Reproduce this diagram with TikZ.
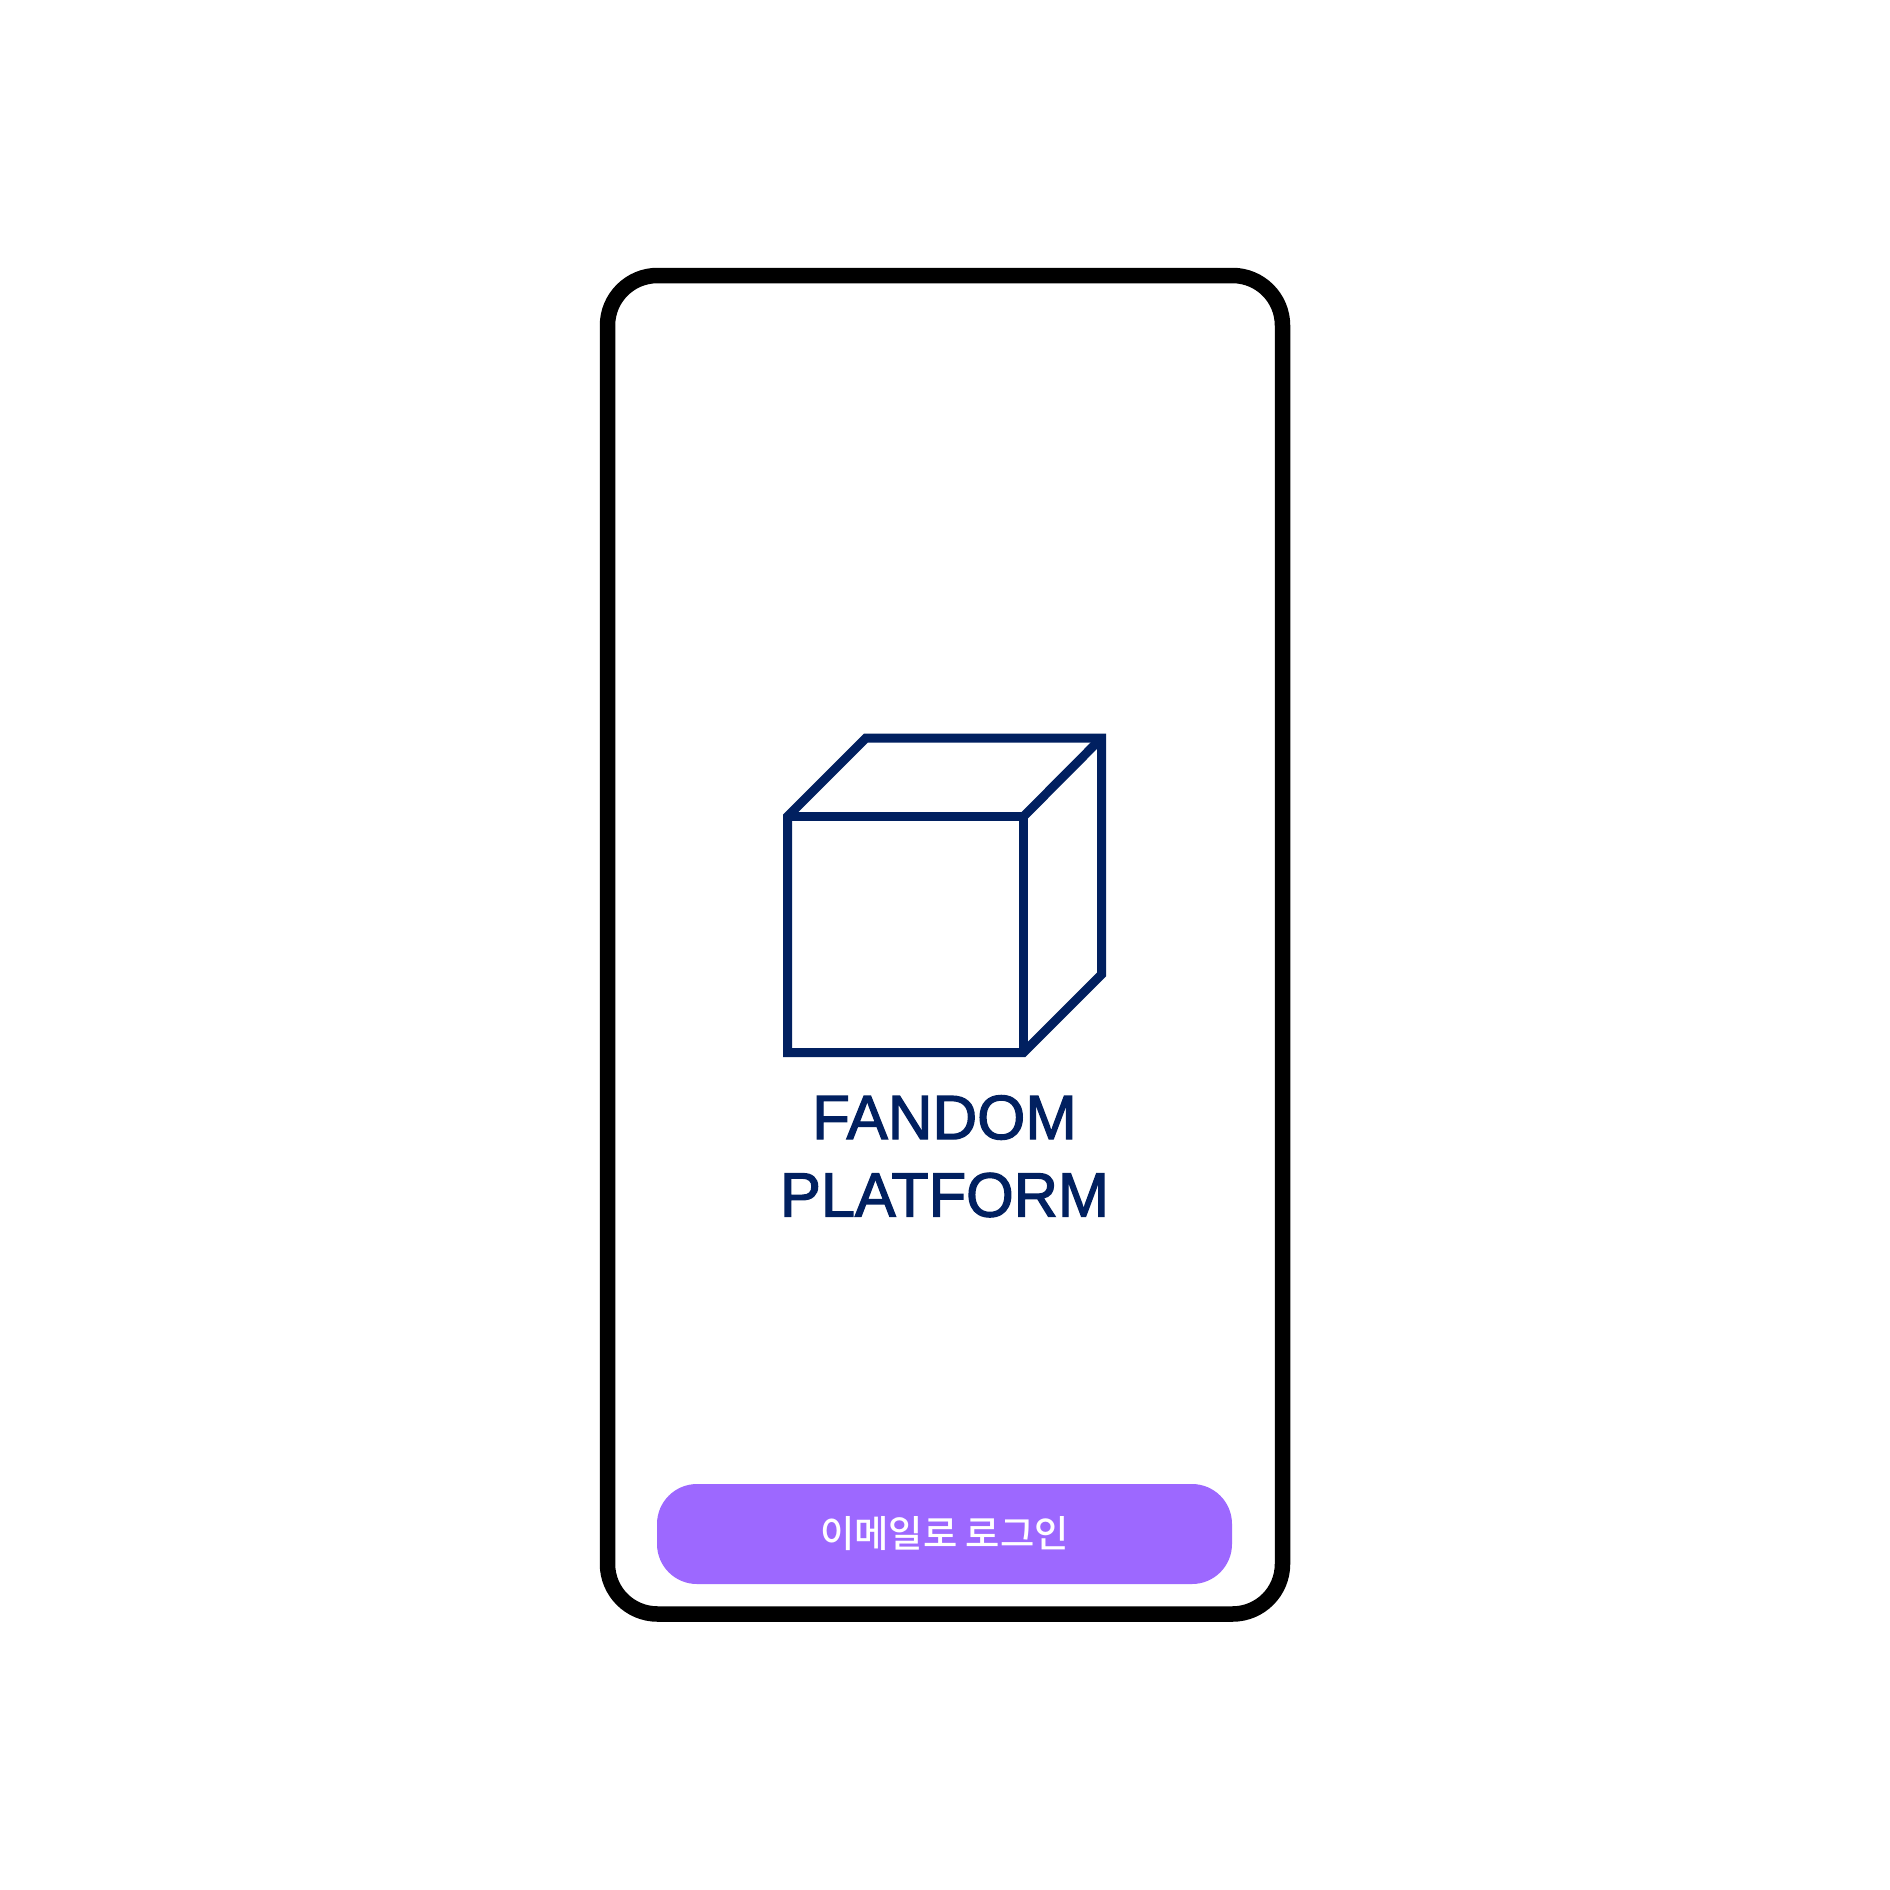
\documentclass[tikz,border=0pt]{standalone}
\usepackage{fontspec}
\setmainfont{Liberation Sans}
\newfontfamily\titlefont{Liberation Sans}
\newfontfamily\krfont[UprightFont={* Medium}]{Noto Sans CJK KR}
\definecolor{navy}{HTML}{012060}
\definecolor{btnpurple}{HTML}{9D68FF}
\newcommand{\heavytext}[1]{\special{pdf:code 2 Tr 1.3 w 0.004 0.125 0.376 RG}#1\special{pdf:code 0 Tr}}
\tikzset{
  phoneframe/.style={draw=black,line width=15.5pt,rounded corners=50pt},
  cubeline/.style={draw=navy,line width=9pt,miter limit=10,line join=miter},
  titletext/.style={text=navy,inner sep=0pt,font=\titlefont\fontsize{62.5}{62.5}\selectfont,anchor=center},
  loginbtn/.style={fill=btnpurple,rounded corners=40pt,minimum width=575pt,minimum height=100pt,inner sep=0pt,text=white,font=\krfont\fontsize{37.3}{37.3}\selectfont}
}
\begin{document}
\begin{tikzpicture}[x=1pt,y=-1pt]
\useasboundingbox[fill=white] (0,0) rectangle (1890,1890);
\draw[phoneframe] (607.5,275.5) rectangle (1282.5,1614);
% cube
\draw[cubeline] (787.5,816.5) -- (866,738) -- (1101.5,738) -- (1101.5,974.5) -- (1023.5,1052.5) -- (787.5,1052.5) -- cycle;
\draw[cubeline] (787.5,816.5) -- (1023.5,816.5) -- (1023.5,1052.5);
\draw[cubeline] (1023.5,816.5) -- (1101.5,738);
\node[titletext,xscale=0.99] (fandom) at (944.5,1117.5) {\heavytext{FANDOM}};
\node[titletext,xscale=0.98] (platform) at (944.5,1195) {\heavytext{PLATFORM}};
\node[loginbtn] (login) at (944.5,1534) {이메일로 로그인};
\end{tikzpicture}
\end{document}
